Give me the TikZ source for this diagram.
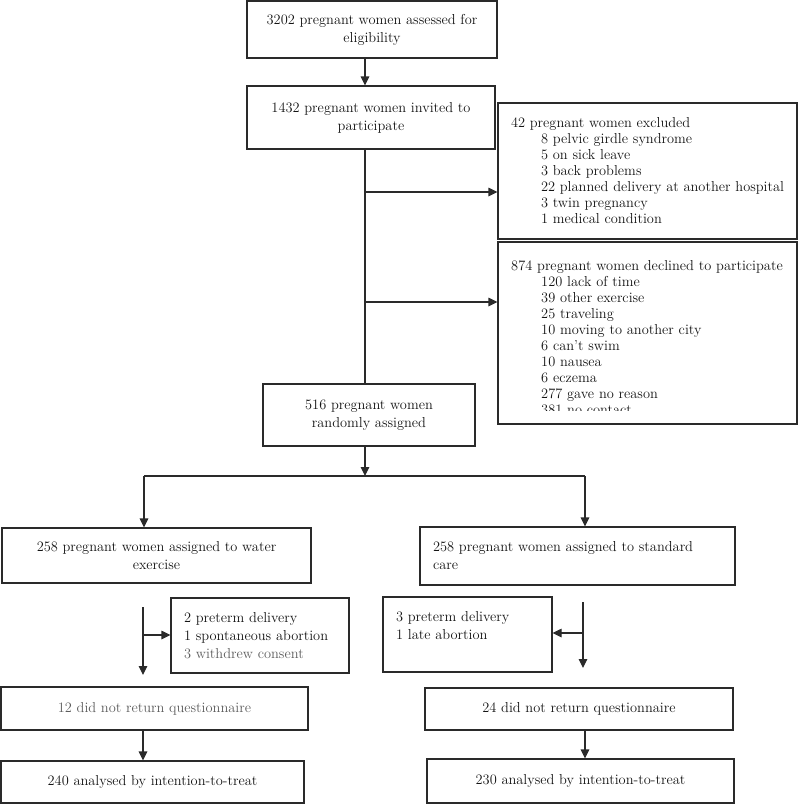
\documentclass[tikz,border=0pt]{standalone}
\usepackage{fontspec}
\usetikzlibrary{arrows.meta,calc}
\definecolor{lncol}{HTML}{2A2A2A}
\definecolor{txcol}{HTML}{141414}
\definecolor{gtxcol}{HTML}{5C5C5C}
\newcommand\myind{\hspace*{30pt}}
\begin{document}
\begin{tikzpicture}[x=1pt,y=-1pt,
  box/.style={draw=lncol, line width=1.1pt, text=txcol, inner sep=0pt, align=center,
              font=\fontsize{14.4}{18}\selectfont},
  listtext/.style={text=txcol, inner sep=0pt, align=left, font=\fontsize{14.4}{16}\selectfont},
  conn/.style={draw=lncol, line width=1.1pt},
  arr/.style={conn, -{Triangle[length=9pt,width=8.5pt]}}
]
\useasboundingbox (0,0) rectangle (798,804);

% top chain
\node[box, minimum width=250pt, minimum height=57pt] (elig) at (372,29.5)
  {3202 pregnant women assessed for\\eligibility};
\node[box, minimum width=248pt, minimum height=63pt] (invit) at (371,117.5)
  {1432 pregnant women invited to\\participate};

% exclusion boxes
\node[box, listtext, draw=lncol, minimum width=299pt, minimum height=136pt, text width=273pt] (excl) at (647.5,171)
  {42 pregnant women excluded\\
   \myind 8 pelvic girdle syndrome\\
   \myind 5 on sick leave\\
   \myind 3 back problems\\
   \mbox{\myind 22 planned delivery at another hospital}\\
   \myind 3 twin pregnancy\\
   \myind 1 medical condition};
\node[box, minimum width=299pt, minimum height=182pt] (decl) at (647.5,333) {};
\begin{scope}
  \clip (499,243) rectangle (796,410);
  \node[listtext, text width=276pt, anchor=north west] (decltext) at (511,260)
    {874 pregnant women declined to participate\\
     \myind 120 lack of time\\
     \myind 39 other exercise\\
     \myind 25 traveling\\
     \myind 10 moving to another city\\
     \myind 6 can't swim\\
     \myind 10 nausea\\
     \myind 6 eczema\\
     \myind 277 gave no reason\\
     \myind 381 no contact};
\end{scope}

\node[box, minimum width=212pt, minimum height=62pt] (rand) at (369,415)
  {516 pregnant women\\randomly assigned};

\coordinate (trunk) at (365,0);
\coordinate (b1) at (365,192);
\coordinate (b2) at (365,302);
\draw[arr] (elig.south -| trunk) -- (invit.north -| trunk);
\draw[conn] (invit.south -| trunk) -- (rand.north -| trunk);
\draw[arr] (b1) -- (b1 -| excl.west);
\draw[arr] (b2) -- (b2 -| decl.west);

% split
\coordinate (split) at (365,476);
\coordinate (lb) at (144,476);
\coordinate (rb) at (585,476);

\node[box, minimum width=309pt, minimum height=55pt] (water) at (156.5,555.5)
  {258 pregnant women assigned to water\\exercise};
\node[box, minimum width=315pt, minimum height=58pt, align=left, text width=289pt] (std) at (577.5,556)
  {258 pregnant women assigned to standard\\care};

\draw[arr] (rand.south -| trunk) -- (split);
\draw[conn] (lb) -- (rb);
\draw[arr] (lb) -- (water.north -| lb);
\draw[arr] (rb) -- (std.north -| rb);

% left arm
\node[box, minimum width=178pt, minimum height=75pt, align=left, text width=152pt] (lloss) at (260,635.5)
  {2 preterm delivery\\1 spontaneous abortion\\\textcolor{gtxcol}{3 withdrew consent}};
\coordinate (lt) at (143,607);
\coordinate (lbot) at (143,675);
\coordinate (lbr) at (143,635);
\draw[arr] (lt) -- (lbot);
\draw[arr] (lbr) -- (lbr -| lloss.west);

\node[box, minimum width=307pt, minimum height=43pt, text=gtxcol] (lq) at (154.5,708.5)
  {12 did not return questionnaire};
\node[box, minimum width=303pt, minimum height=42pt] (la) at (152.5,782)
  {240 analysed by intention-to-treat};
\draw[arr] (lq.south -| lbot) -- (la.north -| lbot);

% right arm
\node[box, minimum width=169pt, minimum height=75pt, align=left, text width=143pt] (rloss) at (467.5,634.5)
  {3 preterm delivery\\1 late abortion\\\mbox{}};
\coordinate (rt) at (583,602);
\coordinate (rbot) at (583,668);
\coordinate (rbr) at (583,633);
\draw[arr] (rt) -- (rbot);
\draw[arr] (rbr) -- (rbr -| rloss.east);

\node[box, minimum width=308pt, minimum height=42pt] (rq) at (579,709)
  {24 did not return questionnaire};
\node[box, minimum width=307pt, minimum height=44pt] (ra) at (580.5,781)
  {230 analysed by intention-to-treat};
\coordinate (rx) at (585,0);
\draw[arr] (rq.south -| rx) -- (ra.north -| rx);
\end{tikzpicture}
\end{document}
